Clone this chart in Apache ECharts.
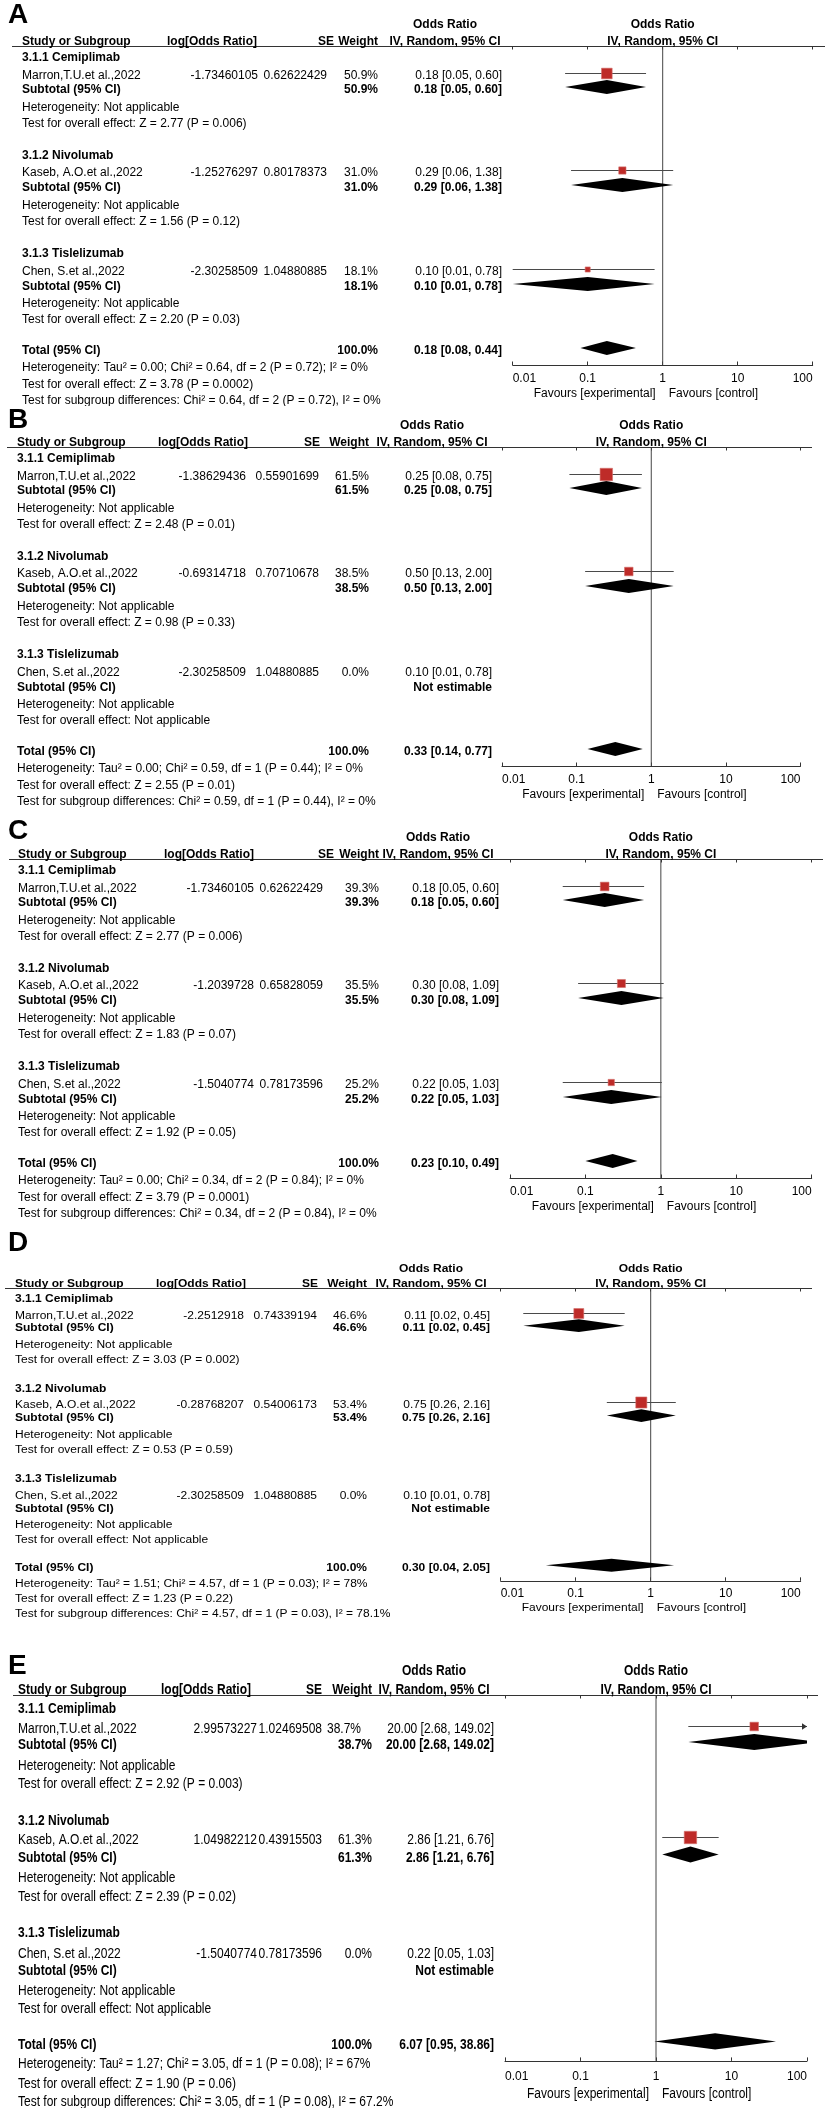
<!DOCTYPE html>
<html><head><meta charset="utf-8">
<script src="https://cdn.jsdelivr.net/npm/echarts@6/dist/echarts.min.js"></script>
<style>html,body{margin:0;padding:0;background:#fff}#c{width:827px;height:2110px}</style>
</head><body><div id="c"></div>
<script>
// ---------------- DATA ----------------
const panelLetters = ['A','B','C','D','E'];
const subgroupNames = ['3.1.1 Cemiplimab','3.1.2 Nivolumab','3.1.3 Tislelizumab'];
const studyNames = ['Marron,T.U.et al.,2022','Kaseb, A.O.et al.,2022','Chen, S.et al.,2022'];
const logOR = [
  [-1.73460105,-1.25276297,-2.30258509],
  [-1.38629436,-0.69314718,-2.30258509],
  [-1.73460105,-1.2039728,-1.5040774],
  [-2.2512918,-0.28768207,-2.30258509],
  [2.99573227,1.04982212,-1.5040774]
];
const seVals = [
  [0.62622429,0.80178373,1.04880885],
  [0.55901699,0.70710678,1.04880885],
  [0.62622429,0.65828059,0.78173596],
  [0.74339194,0.54006173,1.04880885],
  [1.02469508,0.43915503,0.78173596]
];
const weights = [
  [50.9,31.0,18.1],
  [61.5,38.5,0.0],
  [39.3,35.5,25.2],
  [46.6,53.4,0.0],
  [38.7,61.3,0.0]
];
const orEst = [[0.18,0.29,0.10],[0.25,0.50,0.10],[0.18,0.30,0.22],[0.11,0.75,0.10],[20.00,2.86,0.22]];
const orLo  = [[0.05,0.06,0.01],[0.08,0.13,0.01],[0.05,0.08,0.05],[0.02,0.26,0.01],[2.68,1.21,0.05]];
const orHi  = [[0.60,1.38,0.78],[0.75,2.00,0.78],[0.60,1.09,1.03],[0.45,2.16,0.78],[149.02,6.76,1.03]];
const subEstimable = [[true,true,true],[true,true,false],[true,true,true],[true,true,false],[true,true,false]];
const subTest = [
  ['Z = 2.77 (P = 0.006)','Z = 1.56 (P = 0.12)','Z = 2.20 (P = 0.03)'],
  ['Z = 2.48 (P = 0.01)','Z = 0.98 (P = 0.33)','Not applicable'],
  ['Z = 2.77 (P = 0.006)','Z = 1.83 (P = 0.07)','Z = 1.92 (P = 0.05)'],
  ['Z = 3.03 (P = 0.002)','Z = 0.53 (P = 0.59)','Not applicable'],
  ['Z = 2.92 (P = 0.003)','Z = 2.39 (P = 0.02)','Not applicable']
];
const totalOR = [[0.18,0.08,0.44],[0.33,0.14,0.77],[0.23,0.10,0.49],[0.30,0.04,2.05],[6.07,0.95,38.86]];
const totalHet = [
  'Tau² = 0.00; Chi² = 0.64, df = 2 (P = 0.72); I² = 0%',
  'Tau² = 0.00; Chi² = 0.59, df = 1 (P = 0.44); I² = 0%',
  'Tau² = 0.00; Chi² = 0.34, df = 2 (P = 0.84); I² = 0%',
  'Tau² = 1.51; Chi² = 4.57, df = 1 (P = 0.03); I² = 78%',
  'Tau² = 1.27; Chi² = 3.05, df = 1 (P = 0.08); I² = 67%'
];
const totalTest = ['Z = 3.78 (P = 0.0002)','Z = 2.55 (P = 0.01)','Z = 3.79 (P = 0.0001)','Z = 1.23 (P = 0.22)','Z = 1.90 (P = 0.06)'];
const subgroupDiff = [
  'Chi² = 0.64, df = 2 (P = 0.72), I² = 0%',
  'Chi² = 0.59, df = 1 (P = 0.44), I² = 0%',
  'Chi² = 0.34, df = 2 (P = 0.84), I² = 0%',
  'Chi² = 4.57, df = 1 (P = 0.03), I² = 78.1%',
  'Chi² = 3.05, df = 1 (P = 0.08), I² = 67.2%'
];
const tickValues = [0.01,0.1,1,10,100];
const tickLabels = ['0.01','0.1','1','10','100'];

// ---------------- LAYOUT ----------------
const ROW = {grp:[12,110,208], study:[30,127,226], sub:[44,142,241], het:[62,160,258], test:[78,176,274],
  total:305, totHet:322, totTest:339, subDiff:355, axis:319, tickLab:333, fav:348, hdr1:-21, hdr2:-4.5, mark:3};
const layout = [
 {L:46,  s:1,     letterY:15,   x0:22, logR:258, logHdrR:257, seR:327, seHdrR:334, wR:378, orR:502, orHdrC:445, a0:512.7, a1:812.7, lx0:12, lx1:825},
 {L:447, s:1,     letterY:420,  x0:17, logR:246, logHdrR:248, seR:319, seHdrR:320, wR:369, orR:492, orHdrC:432, a0:502,   a1:800.5, lx0:7,  lx1:812},
 {L:859, s:1,     letterY:831,  x0:18, logR:254, logHdrR:254, seR:323, seHdrR:334, wR:379, orR:499, orHdrC:438, a0:510,   a1:811.7, lx0:9,  lx1:823},
 {L:1288,s:0.918, letterY:1243, x0:15, logR:244, logHdrR:246, seR:317, seHdrR:318, wR:367, orR:490, orHdrC:431, a0:500.7, a1:800.7, lx0:5,  lx1:812},
 {L:1695,s:1.147, letterY:1666, x0:18, logR:257, logHdrR:251, seR:322, seHdrR:322, wR:372, orR:494, orHdrC:434, a0:505,   a1:807,   lx0:13, lx1:818, wShift:{0:361}}
];
const FONT = '"Liberation Sans", Arial, Helvetica, sans-serif';
const AX_MIN = tickValues[0], AX_MAX = tickValues[tickValues.length-1];

function fmt2(v){ return v.toFixed(2); }
function ciText(e,l,h){ return fmt2(e)+' ['+fmt2(l)+', '+fmt2(h)+']'; }

function renderCI(params, api){
  const est=api.value(0), lo=api.value(1), hi=api.value(2), y=api.value(3), w=api.value(4);
  const cap = Math.min(hi, AX_MAX);
  const p1=api.coord([lo,y]), p2=api.coord([cap,y]), pe=api.coord([est,y]);
  const yy = Math.round(p1[1])+0.5;
  const sz = 2 + 0.17*w;
  const ch = [{type:'line', shape:{x1:p1[0],y1:yy,x2:p2[0],y2:yy}, style:{stroke:'#4a4a4a', lineWidth:1}}];
  if (hi > AX_MAX) ch.push({type:'polygon', shape:{points:[[p2[0],yy],[p2[0]-5,yy-3.2],[p2[0]-5,yy+3.2]]}, style:{fill:'#333'}});
  ch.push({type:'rect', shape:{x:pe[0]-sz/2, y:yy-sz/2, width:sz, height:sz}, style:{fill:'#BE2B28', stroke:'#D3706C', lineWidth:0.6}});
  return {type:'group', children:ch};
}
function renderDiamond(params, api){
  const est=api.value(0), lo=api.value(1), hi=api.value(2), y=api.value(3), s=api.value(4);
  const pl=api.coord([lo,y]), pe=api.coord([est,y]), ph=api.coord([hi,y]);
  const h = 7*s;
  return {type:'polygon', shape:{points:[[pl[0],pl[1]],[pe[0],pe[1]-h],[ph[0],ph[1]],[pe[0],pe[1]+h]]}, style:{fill:'#000'}};
}
function labelFmt(v){
  let best=0, bd=1e9;
  tickValues.forEach((t,i)=>{const d=Math.abs(Math.log10(t)-Math.log10(v)); if(d<bd){bd=d;best=i;}});
  return tickLabels[best];
}

const chart = echarts.init(document.getElementById('c'), null, {renderer:'canvas', width:827, height:2110});
const grids=[], xAxes=[], yAxes=[], series=[];
layout.forEach((g,p)=>{
  const H = ROW.axis*g.s;
  grids.push({left:g.a0, width:g.a1-g.a0, top:g.L, height:H, containLabel:false, outerBoundsMode:'none'});
  const base = {gridIndex:p, type:'log', logBase:10, min:AX_MIN, max:AX_MAX, splitNumber:4, position:'bottom',
    axisLine:{show:true, lineStyle:{color:'#333', width:1}}, splitLine:{show:false}};
  xAxes.push(Object.assign({}, base, {
    axisTick:{show:true, inside:false, length:3.5, lineStyle:{color:'#333', width:1}},
    axisLabel:{show:true, margin:Math.round(14*g.s-6), color:'#000', fontSize:12, fontFamily:FONT,
      alignMinLabel:'left', alignMaxLabel:'right', formatter:labelFmt}
  }));
  xAxes.push(Object.assign({}, base, {
    axisTick:{show:true, inside:true, length:3.5, lineStyle:{color:'#333', width:1}},
    axisLabel:{show:false}
  }));
  yAxes.push({gridIndex:p, type:'value', min:0, max:H, inverse:true, show:false});
  const ciData=[];
  for(let k=0;k<3;k++){
    if(weights[p][k]>0) ciData.push([orEst[p][k], orLo[p][k], orHi[p][k], (ROW.study[k]-ROW.mark)*g.s, weights[p][k]]);
  }
  const dData=[];
  for(let k=0;k<3;k++){
    if(subEstimable[p][k]) dData.push([orEst[p][k], orLo[p][k], orHi[p][k], (ROW.sub[k]-ROW.mark)*g.s, g.s]);
  }
  dData.push([totalOR[p][0], totalOR[p][1], totalOR[p][2], (ROW.total-ROW.mark)*g.s, g.s]);
  series.push({type:'line', xAxisIndex:2*p, yAxisIndex:p, data:[[1,0],[1,H]], symbol:'none', silent:true,
    lineStyle:{color:'#444', width:1}, z:1});
  series.push({type:'custom', xAxisIndex:2*p, yAxisIndex:p, clip:true, silent:true, data:ciData,
    encode:{x:[0,1,2], y:3}, renderItem:renderCI, z:3});
  series.push({type:'custom', xAxisIndex:2*p, yAxisIndex:p, clip:true, silent:true, data:dData,
    encode:{x:[0,1,2], y:3}, renderItem:renderDiamond, z:2});
});
chart.setOption({animation:false, backgroundColor:'#fff', grid:grids, xAxis:xAxes, yAxis:yAxes, series:series});

// ---------------- TEXT ----------------
const els=[];
function T(x,y,text,o){
  o=o||{};
  els.push({type:'text', x:x, y:y, scaleY:o.sy||1, z:o.z||10, silent:true,
    style:{text:text, fill:'#000', font:(o.bold?'bold ':'')+(o.size||12)+'px '+FONT,
      textAlign:o.align||'left', align:o.align||'left', textVerticalAlign:'middle', verticalAlign:'middle'}});
}
layout.forEach((g,p)=>{
  const s=g.s, L=g.L, Y=off=>L+off*s;
  const xOne = chart.convertToPixel({xAxisIndex:2*p}, 1);
  const o = (extra)=>Object.assign({sy:s}, extra||{});
  T(8, g.letterY, panelLetters[p], {bold:true, size:28, z:60});
  els.push({type:'line', z:5, silent:true, shape:{x1:g.lx0, y1:L+0.5, x2:g.lx1, y2:L+0.5}, style:{stroke:'#333', lineWidth:1}});
  T(g.orHdrC, Y(ROW.hdr1), 'Odds Ratio', o({bold:true, align:'center'}));
  T(xOne, Y(ROW.hdr1), 'Odds Ratio', o({bold:true, align:'center'}));
  T(g.x0, Y(ROW.hdr2), 'Study or Subgroup', o({bold:true}));
  T(g.logHdrR, Y(ROW.hdr2), 'log[Odds Ratio]', o({bold:true, align:'right'}));
  T(g.seHdrR, Y(ROW.hdr2), 'SE', o({bold:true, align:'right'}));
  T(g.wR, Y(ROW.hdr2), 'Weight', o({bold:true, align:'right'}));
  T(g.orHdrC, Y(ROW.hdr2), 'IV, Random, 95% CI', o({bold:true, align:'center'}));
  T(xOne, Y(ROW.hdr2), 'IV, Random, 95% CI', o({bold:true, align:'center'}));
  for(let k=0;k<3;k++){
    T(g.x0, Y(ROW.grp[k]), subgroupNames[k], o({bold:true}));
    const ys=Y(ROW.study[k]);
    T(g.x0, ys, studyNames[k], o());
    T(g.logR, ys, String(logOR[p][k]), o({align:'right'}));
    T(g.seR, ys, String(seVals[p][k]), o({align:'right'}));
    const wx = (g.wShift && g.wShift[k]!==undefined) ? g.wShift[k] : g.wR;
    T(wx, ys, weights[p][k].toFixed(1)+'%', o({align:'right'}));
    T(g.orR, ys, ciText(orEst[p][k], orLo[p][k], orHi[p][k]), o({align:'right'}));
    const yb=Y(ROW.sub[k]);
    T(g.x0, yb, 'Subtotal (95% CI)', o({bold:true}));
    if(subEstimable[p][k]){
      T(g.wR, yb, weights[p][k].toFixed(1)+'%', o({bold:true, align:'right'}));
      T(g.orR, yb, ciText(orEst[p][k], orLo[p][k], orHi[p][k]), o({bold:true, align:'right'}));
    } else {
      T(g.orR, yb, 'Not estimable', o({bold:true, align:'right'}));
    }
    T(g.x0, Y(ROW.het[k]), 'Heterogeneity: Not applicable', o());
    T(g.x0, Y(ROW.test[k]), 'Test for overall effect: '+subTest[p][k], o());
  }
  T(g.x0, Y(ROW.total), 'Total (95% CI)', o({bold:true}));
  T(g.wR, Y(ROW.total), '100.0%', o({bold:true, align:'right'}));
  T(g.orR, Y(ROW.total), ciText(totalOR[p][0], totalOR[p][1], totalOR[p][2]), o({bold:true, align:'right'}));
  T(g.x0, Y(ROW.totHet), 'Heterogeneity: '+totalHet[p], o());
  T(g.x0, Y(ROW.totTest), 'Test for overall effect: '+totalTest[p], o());
  T(g.x0, Y(ROW.subDiff), 'Test for subgroup differences: '+subgroupDiff[p], o());
  T(xOne-7, Y(ROW.fav), 'Favours [experimental]', o({align:'right'}));
  T(xOne+6, Y(ROW.fav), 'Favours [control]', o());
  els.push({type:'rect', z:50, silent:true, shape:{x:0, y:Y(ROW.subDiff+5), width:827, height:8}, style:{fill:'#fff'}});
});
chart.setOption({graphic:{elements:els}});
</script>
</body></html>
